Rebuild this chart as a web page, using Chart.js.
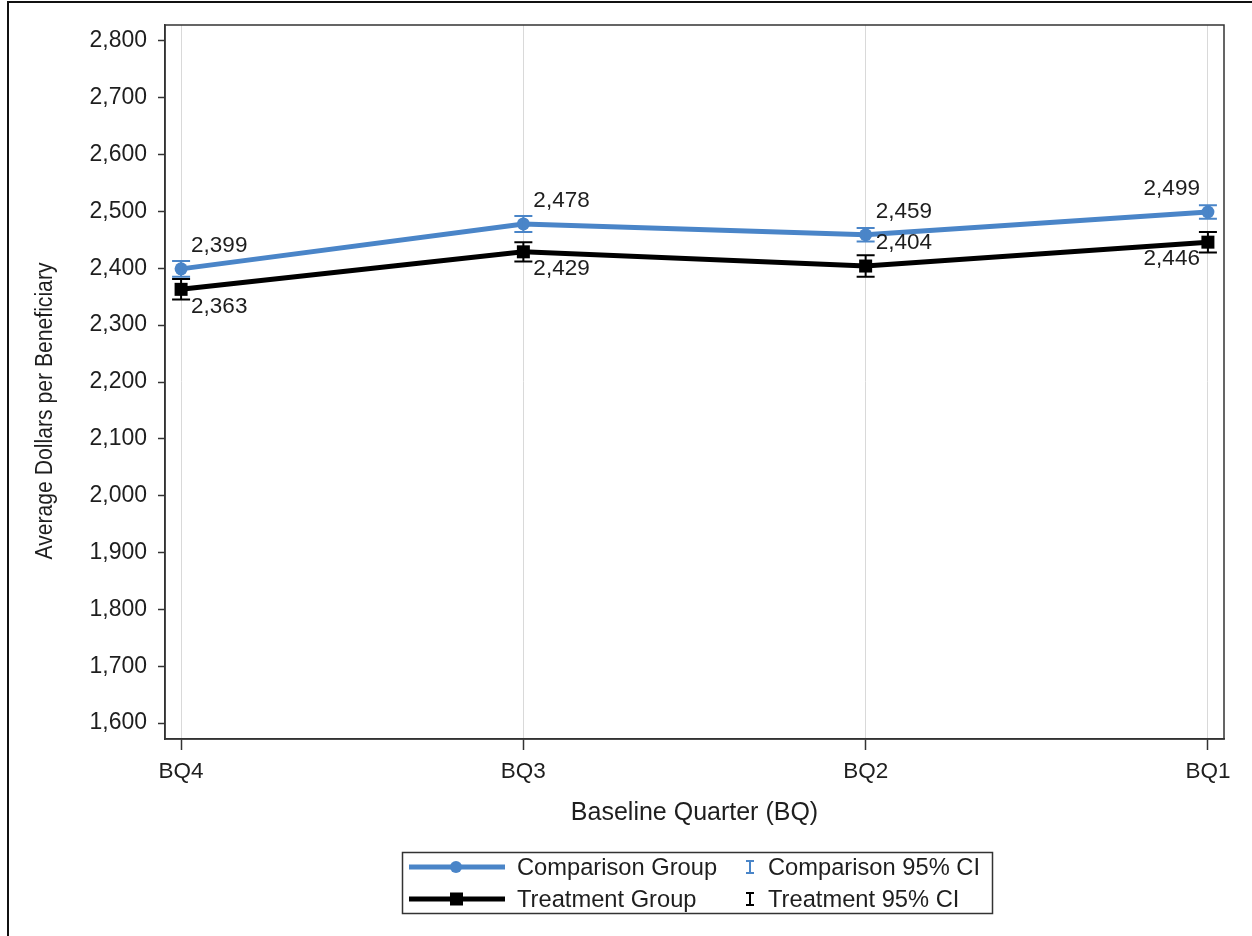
<!DOCTYPE html>
<html>
<head>
<meta charset="utf-8">
<script src="https://cdn.jsdelivr.net/npm/chart.js@4.4.1/dist/chart.umd.min.js"></script>
<style>
  html, body { margin: 0; padding: 0; background: #fff; overflow: hidden; }
  canvas { display: block; }
</style>
</head>
<body>
<canvas id="chart" width="1252" height="936"></canvas>
<script>
// Quarters and average dollars per beneficiary, with 95% confidence limits
const quarters = ['BQ4', 'BQ3', 'BQ2', 'BQ1'];
const comparisonMean  = [2399, 2478, 2459, 2499];
const comparisonLower = [2385, 2464, 2447, 2487];
const comparisonUpper = [2413, 2492, 2471, 2511];
const treatmentMean   = [2363, 2429, 2404, 2446];
const treatmentLower  = [2345, 2412, 2385, 2428];
const treatmentUpper  = [2381, 2446, 2423, 2464];
const yTickValues = [1600, 1700, 1800, 1900, 2000, 2100, 2200, 2300, 2400, 2500, 2600, 2700, 2800];

// Where each value label sits relative to its marker
const comparisonLabelSide = ['ne', 'ne', 'ne', 'nw'];
const treatmentLabelSide  = ['se', 'se', 'ne', 'sw'];

const BLUE = '#4a85c8';
const INK = '#1e1e1e';
const FONT = '"Liberation Sans", Arial, Helvetica, sans-serif';

const fmt = v => v.toLocaleString('en-US');
const toPoints = arr => arr.map((v, i) => ({ x: i, y: v }));

function drawCI(ctx, x, yLo, yHi, color, halfCap) {
  ctx.save();
  ctx.strokeStyle = color;
  ctx.lineWidth = 2;
  ctx.beginPath();
  ctx.moveTo(x, yLo); ctx.lineTo(x, yHi);
  ctx.moveTo(x - halfCap, yLo); ctx.lineTo(x + halfCap, yLo);
  ctx.moveTo(x - halfCap, yHi); ctx.lineTo(x + halfCap, yHi);
  ctx.stroke();
  ctx.restore();
}

const decorations = {
  id: 'decorations',
  afterDatasetsDraw(chart) {
    const { ctx, scales: { x, y } } = chart;
    const groups = [
      { mean: comparisonMean, lo: comparisonLower, hi: comparisonUpper, color: BLUE, sides: comparisonLabelSide },
      { mean: treatmentMean,  lo: treatmentLower,  hi: treatmentUpper,  color: '#000', sides: treatmentLabelSide }
    ];
    // confidence interval bars
    groups.forEach(g => {
      g.mean.forEach((_, i) => {
        drawCI(ctx, x.getPixelForValue(i), y.getPixelForValue(g.lo[i]), y.getPixelForValue(g.hi[i]), g.color, 9);
      });
    });
    // value labels
    ctx.save();
    ctx.font = '22.5px ' + FONT;
    ctx.fillStyle = INK;
    ctx.textBaseline = 'middle';
    groups.forEach(g => {
      g.mean.forEach((v, i) => {
        const px = x.getPixelForValue(i), py = y.getPixelForValue(v);
        const side = g.sides[i];
        const east = side.endsWith('e');
        const north = side.startsWith('n');
        ctx.textAlign = east ? 'left' : 'right';
        ctx.fillText(fmt(v), px + (east ? 10 : -8), py + (north ? -23 : 17));
      });
    });
    ctx.restore();
  },
  afterDraw(chart) {
    const { ctx, chartArea: a } = chart;
    ctx.save();
    // plot frame
    ctx.strokeStyle = '#333';
    ctx.lineWidth = 1.5;
    ctx.strokeRect(a.left, a.top, a.right - a.left, a.bottom - a.top);
    // outer border
    ctx.strokeStyle = '#111';
    ctx.lineWidth = 2;
    ctx.strokeRect(8, 2, 1400, 1100);

    // y axis title
    ctx.fillStyle = INK;
    ctx.font = '23px ' + FONT;
    const yTitle = 'Average Dollars per Beneficiary';
    const w = ctx.measureText(yTitle).width;
    ctx.save();
    ctx.translate(46, 411);
    ctx.rotate(-Math.PI / 2);
    ctx.scale(297 / w, 1);
    ctx.textAlign = 'center';
    ctx.textBaseline = 'middle';
    ctx.fillText(yTitle, 0, 0);
    ctx.restore();

    // x axis title
    ctx.font = '25px ' + FONT;
    ctx.textAlign = 'center';
    ctx.textBaseline = 'alphabetic';
    ctx.fillText('Baseline Quarter (BQ)', (a.left + a.right) / 2, 820);

    // legend
    const lx = 402, ly = 852, lw = 590, lh = 61;
    ctx.strokeStyle = '#333';
    ctx.lineWidth = 1.5;
    ctx.strokeRect(lx + 0.5, ly + 0.5, lw, lh);
    const rows = [
      { y: 867, color: BLUE, marker: 'circle', name: 'Comparison Group', ci: 'Comparison 95% CI' },
      { y: 899, color: '#000', marker: 'rect', name: 'Treatment Group', ci: 'Treatment 95% CI' }
    ];
    ctx.font = '23.7px ' + FONT;
    ctx.textAlign = 'left';
    ctx.textBaseline = 'middle';
    rows.forEach(r => {
      ctx.strokeStyle = r.color;
      ctx.lineWidth = 5;
      ctx.beginPath();
      ctx.moveTo(409, r.y); ctx.lineTo(505, r.y);
      ctx.stroke();
      ctx.fillStyle = r.color;
      if (r.marker === 'circle') {
        ctx.beginPath(); ctx.arc(456, r.y, 6, 0, Math.PI * 2); ctx.fill();
      } else {
        ctx.fillRect(450, r.y - 6.5, 13, 13);
      }
      drawCI(ctx, 750, r.y - 6, r.y + 6, r.color, 4);
      ctx.fillStyle = INK;
      ctx.fillText(r.name, 517, r.y + 1);
      ctx.fillText(r.ci, 768, r.y + 1);
    });
    ctx.restore();
  }
};

new Chart(document.getElementById('chart'), {
  type: 'line',
  data: {
    datasets: [
      {
        label: 'Comparison Group',
        data: toPoints(comparisonMean),
        borderColor: BLUE,
        backgroundColor: BLUE,
        borderWidth: 5,
        pointStyle: 'circle',
        pointRadius: 6.5,
        pointBorderWidth: 0,
        pointBackgroundColor: BLUE,
        tension: 0
      },
      {
        label: 'Treatment Group',
        data: toPoints(treatmentMean),
        borderColor: '#000',
        backgroundColor: '#000',
        borderWidth: 5,
        pointStyle: 'rect',
        pointRadius: 9.2,
        pointBorderWidth: 0,
        pointBackgroundColor: '#000',
        tension: 0
      }
    ]
  },
  options: {
    responsive: false,
    animation: false,
    devicePixelRatio: 1,
    layout: { padding: { left: 8, top: 25, right: 28, bottom: 97 } },
    plugins: { legend: { display: false }, tooltip: { enabled: false } },
    scales: {
      x: {
        type: 'linear',
        min: -0.047,
        max: 3.047,
        afterBuildTicks: s => { s.ticks = quarters.map((_, i) => ({ value: i })); },
        afterFit: s => { s.height = 100; },
        ticks: {
          callback: v => quarters[v],
          font: { family: FONT, size: 22.5 },
          color: INK,
          padding: 8,
          maxRotation: 0
        },
        grid: {
          display: true,
          drawOnChartArea: true,
          color: '#d9d9d9',
          lineWidth: 1,
          tickColor: '#333',
          tickLength: 11,
          tickWidth: 1.5
        },
        border: { display: true, color: '#333', width: 1.5 }
      },
      y: {
        min: 1572,
        max: 2828,
        afterBuildTicks: s => { s.ticks = yTickValues.map(v => ({ value: v })); },
        afterFit: s => { s.width = 157; },
        ticks: {
          callback: v => fmt(v),
          font: { family: FONT, size: 23 },
          color: INK,
          padding: 11
        },
        grid: {
          display: true,
          drawOnChartArea: false,
          tickColor: '#333',
          tickLength: 7,
          tickWidth: 1.5
        },
        border: { display: true, color: '#333', width: 1.5 }
      }
    }
  },
  plugins: [decorations]
});
</script>
</body>
</html>
